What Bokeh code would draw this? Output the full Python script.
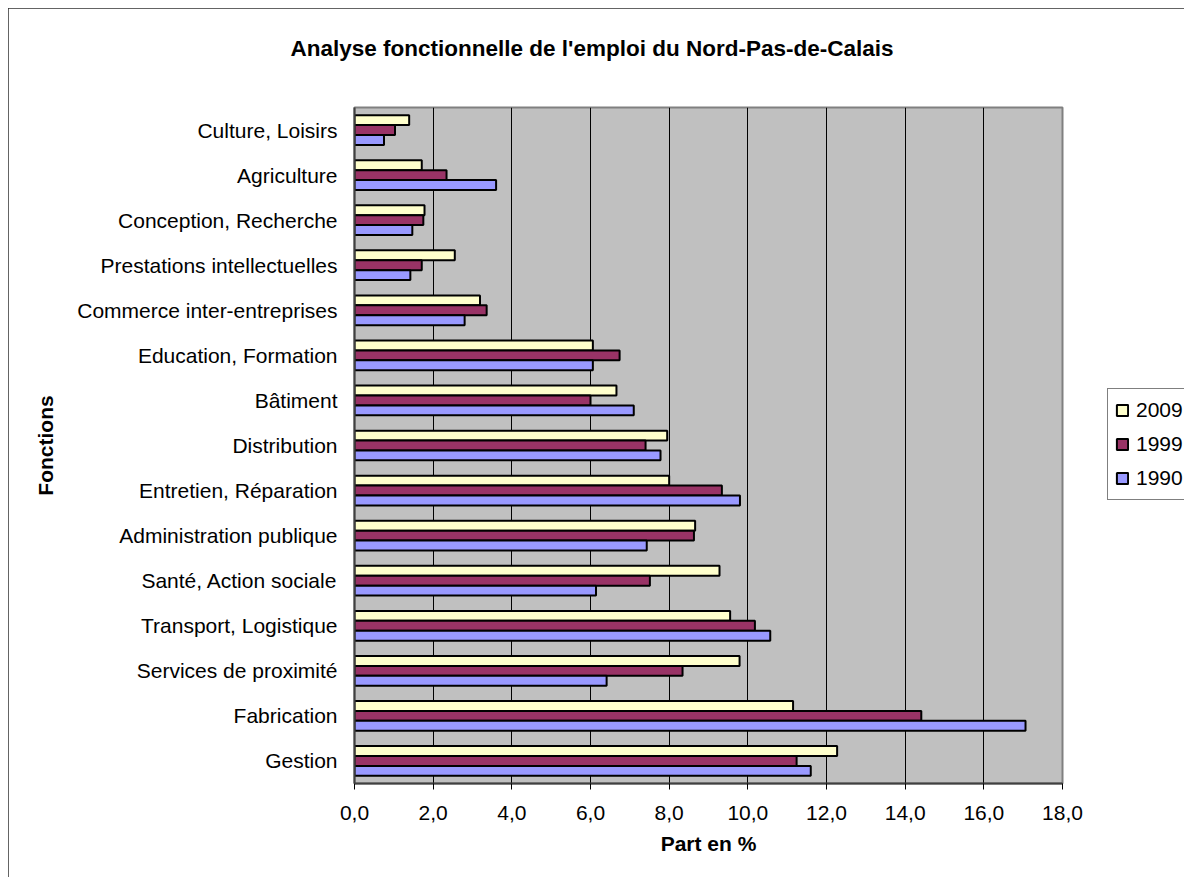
from bokeh.plotting import figure
from bokeh.models import FactorRange, Range1d, FixedTicker, Legend, LegendItem, ColumnDataSource, Title
from bokeh.transform import dodge
from bokeh.embed import file_html
from bokeh.resources import INLINE

# categories from bottom to top
categories = [
    "Gestion", "Fabrication", "Services de proximité", "Transport, Logistique",
    "Santé, Action sociale", "Administration publique", "Entretien, Réparation",
    "Distribution", "Bâtiment", "Education, Formation", "Commerce inter-entreprises",
    "Prestations intellectuelles", "Conception, Recherche", "Agriculture", "Culture, Loisirs",
]
v2009 = [12.27, 11.15, 9.79, 9.55, 9.28, 8.66, 8.00, 7.95, 6.66, 6.06, 3.19, 2.55, 1.78, 1.71, 1.39]
v1999 = [11.24, 14.41, 8.34, 10.18, 7.51, 8.63, 9.34, 7.40, 6.00, 6.74, 3.36, 1.71, 1.75, 2.34, 1.03]
v1990 = [11.60, 17.06, 6.41, 10.57, 6.14, 7.43, 9.80, 7.78, 7.10, 6.06, 2.80, 1.42, 1.47, 3.60, 0.75]
series_names = ["2009", "1999", "1990"]
tick_values = [0, 2, 4, 6, 8, 10, 12, 14, 16, 18]
tick_labels = ["0,0", "2,0", "4,0", "6,0", "8,0", "10,0", "12,0", "14,0", "16,0", "18,0"]
title_text = "Analyse fonctionnelle de l'emploi du Nord-Pas-de-Calais"

colors = {"2009": "#FFFFCC", "1999": "#993366", "1990": "#9999FF"}
FONT = "Liberation Sans"

src = ColumnDataSource(dict(cat=categories, v2009=v2009, v1999=v1999, v1990=v1990))

p = figure(
    y_range=FactorRange(factors=categories, range_padding=0),
    x_range=Range1d(0, 18),
    frame_width=708, frame_height=676,
    min_border_left=346, min_border_top=99, min_border_right=122, min_border_bottom=94,
    output_backend="svg", toolbar_location=None,
)
p.margin = (8, 0, 0, 8)
p.styles = {"outline": "2px solid #303030", "outline-offset": "-2px"}

# spacer panel between frame and title, then the title itself
p.add_layout(Title(text=" ", text_font_size="10px", standoff=34), "above")
p.add_layout(Title(text=title_text, text_font=FONT, text_font_size="22.5px",
                   text_font_style="bold", text_color="black", align="left",
                   offset=-64, standoff=0), "above")

p.background_fill_color = "#C0C0C0"
p.border_fill_color = "white"
p.outline_line_color = "#808080"
p.outline_line_width = 2

p.xgrid.ticker = FixedTicker(ticks=tick_values)
p.xgrid.grid_line_color = "black"
p.xgrid.grid_line_width = 1
p.ygrid.grid_line_color = None

offsets = {"2009": 0.22, "1999": 0.0, "1990": -0.22}
renderers = {}
for name in series_names:
    renderers[name] = p.hbar(
        y=dodge("cat", offsets[name], range=p.y_range), right="v" + name, left=0,
        height=0.22, source=src, fill_color=colors[name],
        line_color="black", line_width=2,
    )

# x axis
xa = p.xaxis[0]
xa.ticker = FixedTicker(ticks=tick_values)
xa.major_label_overrides = {v: l for v, l in zip(tick_values, tick_labels)}
xa.axis_label = "Part en %"
xa.axis_label_text_font = FONT
xa.axis_label_text_font_size = "21px"
xa.axis_label_text_font_style = "bold"
xa.axis_label_text_color = "black"
xa.major_label_text_font = FONT
xa.major_label_text_font_size = "21px"
xa.major_label_text_color = "black"
xa.major_label_standoff = 16
xa.axis_label_standoff = 9
xa.major_tick_out = 6
xa.major_tick_in = 0
xa.major_tick_line_color = "black"
xa.minor_tick_line_color = None
xa.axis_line_color = "#404040"
xa.axis_line_width = 2

# y axis
ya = p.yaxis[0]
ya.axis_label = "Fonctions"
ya.axis_label_text_font = FONT
ya.axis_label_text_font_size = "21px"
ya.axis_label_text_font_style = "bold"
ya.axis_label_text_color = "black"
ya.major_label_text_font = FONT
ya.major_label_text_font_size = "21px"
ya.major_label_text_color = "black"
ya.major_label_standoff = 17
ya.axis_label_standoff = 17
ya.major_tick_line_color = None
ya.major_tick_out = 0
ya.major_tick_in = 0
ya.axis_line_color = "#404040"
ya.axis_line_width = 2

legend = Legend(
    items=[LegendItem(label=n, renderers=[renderers[n]]) for n in series_names],
    location=(45, 283),
    label_text_font=FONT, label_text_font_size="21px", label_text_color="black",
    glyph_width=14, glyph_height=14, label_height=28, spacing=6,
    padding=7, margin=0, label_standoff=7,
    border_line_color="black", border_line_width=1,
    background_fill_color="white", background_fill_alpha=1,
)
p.add_layout(legend, "right")

open("out.html", "w").write(file_html(p, INLINE))
